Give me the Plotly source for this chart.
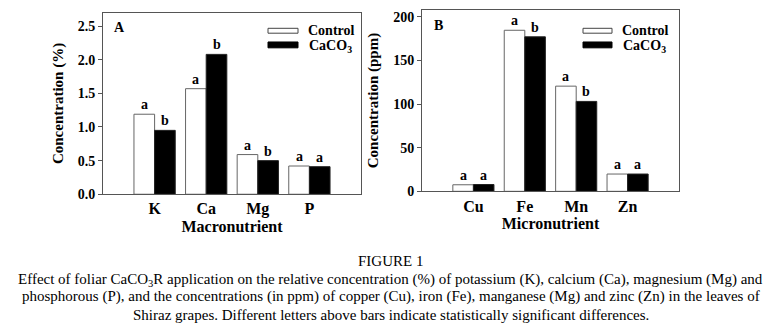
import plotly.graph_objects as go

macro_cats = ["K", "Ca", "Mg", "P"]
macro_control = [1.19, 1.57, 0.59, 0.42]
macro_caco3 = [0.95, 2.08, 0.50, 0.41]
macro_letters_control = ["a", "a", "a", "a"]
macro_letters_caco3 = ["b", "b", "b", "a"]

micro_cats = ["Cu", "Fe", "Mn", "Zn"]
micro_control = [7.5, 184.5, 120.5, 19.8]
micro_caco3 = [7.8, 177.0, 103.0, 19.8]
micro_letters_control = ["a", "a", "a", "a"]
micro_letters_caco3 = ["a", "b", "b", "a"]

macro_ticks = [0.0, 0.5, 1.0, 1.5, 2.0, 2.5]
micro_ticks = [0, 50, 100, 150, 200]

FONT = "Liberation Serif, Times New Roman, serif"
AX = "#555555"
EDGE = "#666666"

fig = go.Figure()

def add_panel(cats, ctrl, trt, lc, lt, xa, ya):
    xs = list(range(len(cats)))
    fig.add_trace(go.Bar(x=xs, y=ctrl, name="Control", marker=dict(color="white", line=dict(color=EDGE, width=1)),
                         xaxis=xa, yaxis=ya, offsetgroup="c", showlegend=False))
    fig.add_trace(go.Bar(x=xs, y=trt, name="CaCO3", marker=dict(color="black", line=dict(color="#222222", width=1)),
                         xaxis=xa, yaxis=ya, offsetgroup="t", showlegend=False))
    for i in xs:
        for val, lab, off in ((ctrl[i], lc[i], -0.2), (trt[i], lt[i], 0.2)):
            fig.add_annotation(x=i + off, y=val, xref=xa, yref=ya, text="<b>%s</b>" % lab,
                               showarrow=False, xanchor="center", yanchor="bottom", yshift=0,
                               font=dict(family=FONT, size=14, color="black"))

add_panel(macro_cats, macro_control, macro_caco3, macro_letters_control, macro_letters_caco3, "x", "y")
add_panel(micro_cats, micro_control, micro_caco3, micro_letters_control, micro_letters_caco3, "x2", "y2")

W, H = 781, 335
def px(x):
    return x / W
def py(y):
    return 1 - y / H

axis_common = dict(showline=True, linecolor=AX, linewidth=1, mirror=True, showgrid=False, zeroline=False,
                   ticks="outside", ticklen=4, tickcolor=AX,
                   tickfont=dict(family=FONT, size=14, color="black"))
xaxis_common = {**axis_common, "ticks": "", "tickfont": dict(family=FONT, size=16, color="black")}

fig.update_layout(
    width=W, height=H, margin=dict(l=0, r=0, t=0, b=0),
    paper_bgcolor="white", plot_bgcolor="white",
    barmode="group", bargap=0.2, bargroupgap=0,
    xaxis=dict(domain=[px(103), px(361)], range=[-1, 4], tickvals=list(range(4)), ticktext=["<b>%s</b>" % c for c in macro_cats],
               anchor="y", **xaxis_common,
               title=dict(text="<b>Macronutrient</b>", font=dict(family=FONT, size=16, color="black"), standoff=2)),
    yaxis=dict(domain=[py(199), py(13)], range=[0, 2.7], tickvals=macro_ticks, ticktext=["<b>%.1f</b>" % t for t in macro_ticks],
               anchor="x", **axis_common,
               title=dict(text="<b>Concentration (%)</b>", font=dict(family=FONT, size=15, color="black"), standoff=10)),
    xaxis2=dict(domain=[px(422), px(679)], range=[-1, 4], tickvals=list(range(4)), ticktext=["<b>%s</b>" % c for c in micro_cats],
                anchor="y2", **xaxis_common,
                title=dict(text="<b>Micronutrient</b>", font=dict(family=FONT, size=16, color="black"), standoff=2)),
    yaxis2=dict(domain=[py(196), py(10)], range=[0, 208], tickvals=micro_ticks, ticktext=["<b>%d</b>" % t for t in micro_ticks],
                anchor="x2", **axis_common,
                title=dict(text="<b>Concentration (ppm)</b>", font=dict(family=FONT, size=15, color="black"), standoff=10)),
)

# panel letters
fig.add_annotation(x=px(120), y=py(28), xref="paper", yref="paper", text="<b>A</b>", showarrow=False,
                   xanchor="center", yanchor="middle", font=dict(family=FONT, size=14, color="black"))
fig.add_annotation(x=px(438), y=py(26), xref="paper", yref="paper", text="<b>B</b>", showarrow=False,
                   xanchor="center", yanchor="middle", font=dict(family=FONT, size=14, color="black"))

# legends
for x0, x1, tx in ((268, 298, 306), (583, 612, 620)):
    fig.add_shape(type="rect", xref="paper", yref="paper", x0=px(x0), x1=px(x1), y0=py(34), y1=py(29),
                  fillcolor="white", line=dict(color="#444444", width=1))
    fig.add_shape(type="rect", xref="paper", yref="paper", x0=px(x0), x1=px(x1), y0=py(49), y1=py(43),
                  fillcolor="black", line=dict(color="black", width=1))
    fig.add_annotation(x=px(tx), y=py(31), xref="paper", yref="paper", text="<b>Control</b>", showarrow=False,
                       xanchor="left", yanchor="middle", font=dict(family=FONT, size=14, color="black"))
    fig.add_annotation(x=px(tx + 1), y=py(48), xref="paper", yref="paper", text="<b>CaCO<sub>3</sub></b>", showarrow=False,
                       xanchor="left", yanchor="middle", font=dict(family=FONT, size=14, color="black"))

# caption
caption_lines = [
    "FIGURE 1",
    "Effect of foliar CaCO<sub>3</sub>R application on the relative concentration (%) of potassium (K), calcium (Ca), magnesium (Mg) and",
    "phosphorous (P), and the concentrations (in ppm) of copper (Cu), iron (Fe), manganese (Mg) and zinc (Zn) in the leaves of",
    "Shiraz grapes. Different letters above bars indicate statistically significant differences.",
]
for yy, line in zip((267, 287, 304, 323), caption_lines):
    fig.add_annotation(x=0.5, y=py(yy), xref="paper", yref="paper", text=line, showarrow=False,
                       xanchor="center", yanchor="middle", font=dict(family=FONT, size=15, color="black"))

fig.write_html("out.html", config={"displayModeBar": False},
               post_script="document.body.style.margin='0';")
